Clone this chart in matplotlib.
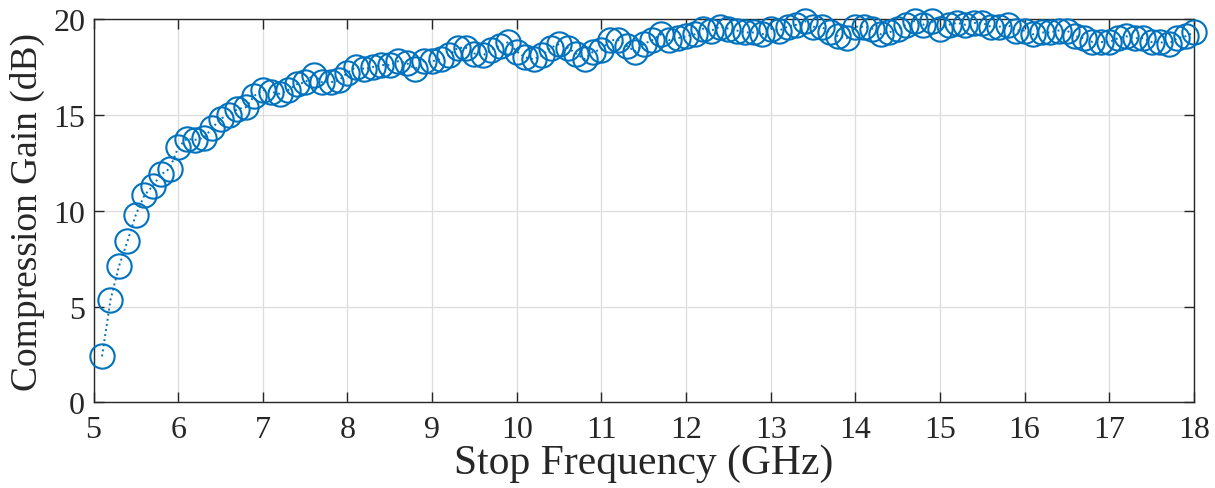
import numpy as np
import matplotlib
matplotlib.use("Agg")
import matplotlib.pyplot as plt

# Stop frequency sweep (GHz) and measured compression gain (dB)
freq_ghz = np.round(np.arange(5.1, 18.0001, 0.1), 1)
gain_db = [
    2.4, 5.35, 7.1, 8.4, 9.8, 10.8, 11.3, 11.9, 12.2, 13.3,
    13.75, 13.7, 13.8, 14.3, 14.8, 15.0, 15.3, 15.4, 16.0, 16.3,
    16.2, 16.1, 16.3, 16.6, 16.7, 17.1, 16.7, 16.7, 16.8, 17.2,
    17.5, 17.4, 17.5, 17.6, 17.6, 17.8, 17.7, 17.4, 17.8, 17.8,
    17.9, 18.1, 18.5, 18.5, 18.2, 18.1, 18.4, 18.6, 18.8, 18.3,
    18.0, 17.9, 18.1, 18.5, 18.7, 18.5, 18.2, 17.9, 18.3, 18.4,
    18.9, 18.9, 18.6, 18.3, 18.7, 18.9, 19.2, 18.9, 19.0, 19.1,
    19.2, 19.5, 19.4, 19.6, 19.5, 19.4, 19.3, 19.3, 19.2, 19.5,
    19.4, 19.6, 19.7, 19.9, 19.6, 19.6, 19.3, 19.1, 19.0, 19.6,
    19.6, 19.5, 19.2, 19.3, 19.5, 19.7, 19.9, 19.7, 19.9, 19.5,
    19.7, 19.8, 19.7, 19.8, 19.8, 19.6, 19.6, 19.7, 19.4, 19.4,
    19.2, 19.3, 19.3, 19.4, 19.4, 19.1, 19.0, 18.8, 18.8, 18.8,
    19.0, 19.1, 19.0, 19.0, 18.8, 18.8, 18.7, 19.0, 19.1, 19.3,
]
x_ticks = list(range(5, 19))
y_ticks = [0, 5, 10, 15, 20]

plt.rcParams["font.family"] = ["Liberation Serif", "DejaVu Serif"]

fig = plt.figure(figsize=(12.15, 4.89), dpi=100)
ax = fig.add_axes([0.077, 0.175, 0.9057, 0.784])

blue = "#0072BD"
ax.plot(freq_ghz, gain_db, linestyle=":", color=blue, linewidth=1.4,
        marker="o", markersize=17.5, markerfacecolor="none",
        markeredgecolor=blue, markeredgewidth=1.5, clip_on=False, zorder=3)

ax.set_xlim(5, 18)
ax.set_ylim(0, 20)
ax.set_xticks(x_ticks)
ax.set_yticks(y_ticks)
ax.grid(True, color="#dcdcdc", linewidth=0.9)
ax.set_axisbelow(True)
ax.tick_params(direction="in", length=7, width=1.0, labelsize=23,
               top=True, right=True, colors="#262626", pad=6)
ax.tick_params(axis="x", pad=9)
for side in ax.spines.values():
    side.set_color("#262626")
    side.set_linewidth(1.0)

ax.set_xlabel("Stop Frequency (GHz)", fontsize=30, color="#262626", labelpad=0)
ax.set_ylabel("Compression Gain (dB)", fontsize=27, color="#262626", labelpad=6)

fig.savefig("out.png", dpi=100)
